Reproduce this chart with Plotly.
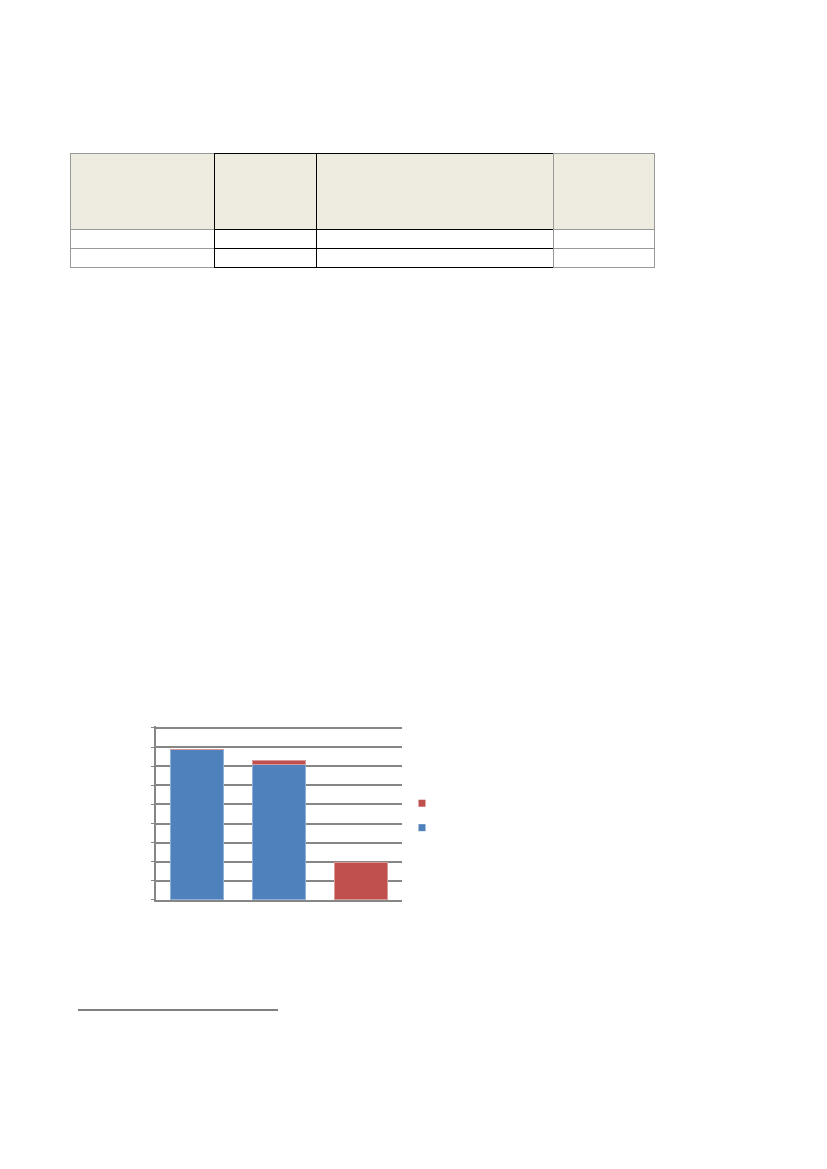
import plotly.graph_objects as go

# ------ data ------ #
categories = ["1", "2", "3"]
blue_values = [7.85, 7.07, 0]
red_values = [0, 0.22, 1.95]
series_names = [" ", " "]

# empty table (no readable text in the reference)
table_header = ["", "", "", ""]
table_rows = [["", ""], ["", ""], ["", ""], ["", ""]]
table_col_widths = [144, 102, 237, 101]

# figure sits inside the page's 8px body margin
W, H = 811, 1153
OFF = 8


def px(x):
    return (x - OFF) / W


def py(y):
    return 1 - (y - OFF) / H


BLUE = "#4F81BD"
RED = "#C0504D"
GRID = "#868686"
LINE_COLS = ["#999999", "#000000", "#000000", "#999999"]

# y scale: 9 gridline steps between y=900 and y=728 px
Y_TOP = 9.1
unit = (900 - 728) / 9

fig = go.Figure()

# ------ table ------ #
fig.add_trace(go.Table(
    domain=dict(x=[px(70), px(654)], y=[py(272), py(153)]),
    columnwidth=table_col_widths,
    header=dict(values=table_header, height=76, fill_color="#EEEBE0",
                line=dict(color=LINE_COLS, width=1)),
    cells=dict(values=table_rows, height=19, fill_color="white",
               line=dict(color=LINE_COLS, width=1)),
))

# ------ stacked bars ------ #
fig.add_trace(go.Bar(x=categories, y=blue_values, marker=dict(color=BLUE, line=dict(color="#8fb0d8", width=1)),
                     showlegend=False))
fig.add_trace(go.Bar(x=categories, y=red_values, marker=dict(color=RED, line=dict(color="#d89a98", width=1)),
                     showlegend=False))

# legend entries (small squares, red above blue)
fig.add_trace(go.Scatter(x=[None], y=[None], mode="markers", name=series_names[1],
                         marker=dict(symbol="square", size=7, color=RED)))
fig.add_trace(go.Scatter(x=[None], y=[None], mode="markers", name=series_names[0],
                         marker=dict(symbol="square", size=7, color=BLUE)))

fig.update_layout(
    width=W, height=H,
    margin=dict(l=0, r=0, t=0, b=0),
    paper_bgcolor="white", plot_bgcolor="white",
    barmode="stack", bargap=0.35,
    font=dict(family="Liberation Sans", size=16.5),
    showlegend=True,
    legend=dict(x=px(402), y=py(786), xanchor="left", yanchor="top",
                traceorder="normal", bgcolor="rgba(0,0,0,0)", itemsizing="trace"),
    xaxis=dict(domain=[px(156), px(402)], type="category", showticklabels=False,
               showgrid=False, showline=True, linecolor=GRID, linewidth=1.5, ticks=""),
    yaxis=dict(domain=[py(900), py(900 - Y_TOP * unit)], range=[0, Y_TOP], dtick=1,
               showticklabels=False, showgrid=True, gridcolor=GRID, gridwidth=1.5, zeroline=False,
               showline=True, linecolor=GRID, linewidth=1.5,
               ticks="outside", ticklen=3, tickcolor=GRID),
    shapes=[dict(type="line", xref="paper", yref="paper",
                 x0=px(78), x1=px(278), y0=py(1010), y1=py(1010),
                 line=dict(color="black", width=1))],
)

fig.write_html("out.html")
